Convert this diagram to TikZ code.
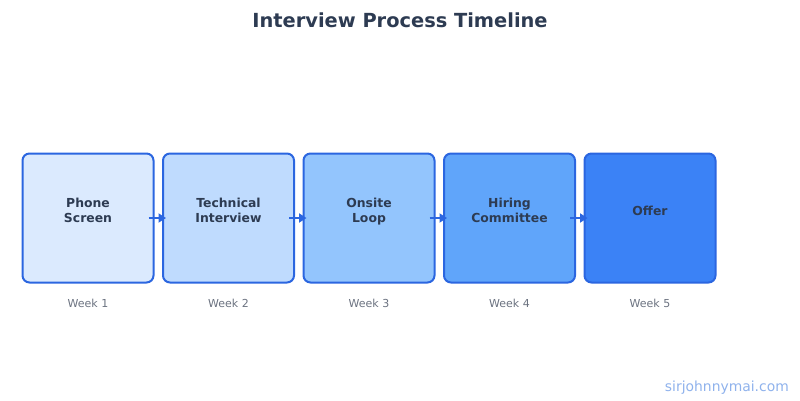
\documentclass[tikz,border=0pt]{standalone}
\usepackage{fontspec}
\setmainfont{DejaVu Sans}
\usetikzlibrary{arrows.meta}
\definecolor{edgeblue}{HTML}{2B66E0}
\definecolor{fa}{HTML}{DBEAFE}
\definecolor{fb}{HTML}{BFDBFE}
\definecolor{fc}{HTML}{93C5FD}
\definecolor{fd}{HTML}{60A5FA}
\definecolor{fe}{HTML}{3B82F6}
\definecolor{txt}{HTML}{2D3B52}
\definecolor{weektxt}{HTML}{6B7280}
\definecolor{wm}{HTML}{8FB2EC}
\tikzset{
  stagebox/.style={draw=edgeblue, line width=2pt, rounded corners=7pt, minimum width=131pt, minimum height=129pt, inner sep=0pt},
  stagelabel/.style={text=txt, font=\fontsize{12.4}{15}\selectfont\bfseries, align=center, inner sep=0pt},
  weeklabel/.style={text=weektxt, font=\fontsize{11}{13}\selectfont, inner sep=0pt},
  flow/.style={draw=edgeblue, line width=2.8pt, -{Triangle[length=7.5pt,width=9pt]}}
}
\begin{document}
\begin{tikzpicture}[x=1pt,y=1pt]
\useasboundingbox (0,0) rectangle (800,400);
\node[text=txt, font=\fontsize{19.4}{23}\selectfont\bfseries] (title) at (400,380) {Interview Process Timeline};
\foreach \i/\c/\t in {1/fa/{Phone\strut\\Screen\strut},2/fb/{Technical\strut\\Interview\strut},3/fc/{Onsite\strut\\Loop\strut},4/fd/{Hiring\strut\\Committee\strut},5/fe/{Offer\strut}}{
  \node[stagebox, fill=\c] (b\i) at ({88+140.5*(\i-1)},182) {};
  \node[stagelabel] (l\i) at ({88+140.5*(\i-1)},188) {\t};
  \node[weeklabel] (w\i) at ({88+140.5*(\i-1)},97) {Week \i};
}
\foreach \i/\j in {1/2,2/3,3/4,4/5}{
  \draw[flow] ([xshift=-6pt]b\i.east) -- ([xshift=4pt]b\j.west);
}
\node[text=wm, font=\fontsize{13.9}{16}\selectfont, anchor=base east, inner sep=0pt] (wmark) at (789,9) {sirjohnnymai.com};
\end{tikzpicture}
\end{document}
